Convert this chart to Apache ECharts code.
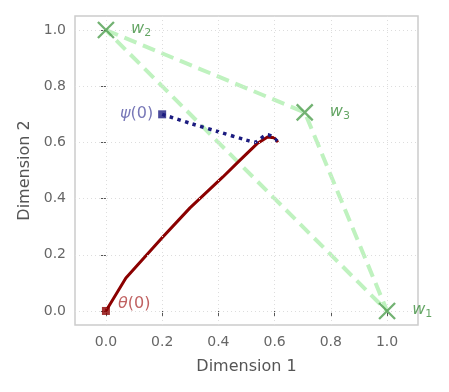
<!DOCTYPE html>
<html>
<head>
<meta charset="utf-8">
<script src="https://cdn.jsdelivr.net/npm/echarts@6/dist/echarts.min.js"></script>
<style>
  html, body { margin: 0; padding: 0; background: #fff; }
  #chart { width: 449px; height: 392px; }
</style>
</head>
<body>
<div id="chart"></div>
<script>
// tick positions on both axes
const xTicks = [0, 0.2, 0.4, 0.6, 0.8, 1.0];
const yTicks = [0, 0.2, 0.4, 0.6, 0.8, 1.0];

// simplex vertices w1, w2, w3
const vertexIndex = ['1', '2', '3'];
const vertices = [[1, 0], [0, 1], [0.707, 0.707]];
// dashed edges: w2 -> w3 -> w1 -> w2
const simplexEdges = [[0, 1], [0.707, 0.707], [1, 0], [0, 1]];

// theta trajectory (solid dark red)
const thetaPath = [
  [0, 0], [0.071, 0.117], [0.199, 0.26], [0.299, 0.367], [0.416, 0.477],
  [0.477, 0.537], [0.537, 0.595], [0.575, 0.619], [0.598, 0.617], [0.612, 0.601]
];
// psi trajectory (dotted navy)
const psiPath = [
  [0.2, 0.7], [0.3, 0.668], [0.4, 0.638], [0.5, 0.608], [0.53, 0.601],
  [0.548, 0.612], [0.562, 0.623], [0.575, 0.627], [0.592, 0.62], [0.609, 0.605]
];

const gridLines = xTicks.map(v => ({ xAxis: v })).concat(yTicks.map(v => ({ yAxis: v })));

const chart = echarts.init(document.getElementById('chart'));

const axisCommon = {
  type: 'value',
  nameLocation: 'middle',
  nameTextStyle: { color: '#555', fontSize: 16, fontFamily: 'DejaVu Sans' },
  axisLine: { show: false },
  splitLine: { show: false },
  axisTick: { show: true, length: 5, lineStyle: { color: '#555', width: 1 } },
  axisLabel: { color: '#666', fontSize: 14, fontFamily: 'DejaVu Sans', formatter: v => v.toFixed(1) }
};

chart.setOption({
  animation: false,
  grid: { left: 75, right: 31, top: 16, bottom: 67, show: true, borderColor: '#ccc', borderWidth: 1.5 },
  xAxis: Object.assign({}, axisCommon, {
    name: 'Dimension 1', nameGap: 34, min: -0.11, max: 1.11,
    axisTick: Object.assign({}, axisCommon.axisTick, { customValues: xTicks }),
    axisLabel: Object.assign({}, axisCommon.axisLabel, { customValues: xTicks, margin: 10 })
  }),
  yAxis: Object.assign({}, axisCommon, {
    name: 'Dimension 2', nameGap: 42, min: -0.05, max: 1.05,
    axisTick: Object.assign({}, axisCommon.axisTick, { customValues: yTicks }),
    axisLabel: Object.assign({}, axisCommon.axisLabel, { customValues: yTicks, margin: 9 })
  }),
  series: [
    {
      type: 'line',
      data: simplexEdges,
      symbol: 'none',
      lineStyle: { color: '#bff2bf', width: 4, type: [13, 7] },
      markLine: {
        silent: true, symbol: 'none', label: { show: false },
        lineStyle: { color: '#ddd', width: 1, type: [1, 3] },
        data: gridLines
      },
      z: 2
    },
    {
      type: 'line',
      data: thetaPath,
      symbol: 'none',
      lineStyle: { color: '#8b0000', width: 3, join: 'round' },
      z: 3
    },
    {
      type: 'line',
      data: psiPath,
      symbol: 'none',
      smooth: 0.3,
      lineStyle: { color: '#1c1c80', width: 3.5, type: [3.5, 4.5] },
      z: 4
    },
    {
      type: 'scatter',
      data: [thetaPath[0]],
      symbol: 'rect',
      symbolSize: 8,
      itemStyle: { color: '#8b0000' },
      label: {
        show: true, position: [16, -11], color: '#b03a3a', fontSize: 16, fontFamily: 'DejaVu Sans',
        formatter: '{i|\u03b8}(0)', rich: { i: { fontStyle: 'italic', fontSize: 16, color: '#b03a3a' } }
      },
      z: 5
    },
    {
      type: 'scatter',
      data: [psiPath[0]],
      symbol: 'rect',
      symbolSize: 8,
      itemStyle: { color: '#1c1c80' },
      label: {
        show: true, position: 'left', distance: 5, color: '#5555a5', fontSize: 16, fontFamily: 'DejaVu Sans',
        formatter: '{i|\u03c8}(0)', rich: { i: { fontStyle: 'italic', fontSize: 16, color: '#5555a5' } }
      },
      z: 5
    },
    {
      type: 'scatter',
      data: vertices.map((p, i) => ({ value: p, name: vertexIndex[i] })),
      symbol: 'path://M0,0L10,10M10,0L0,10',
      symbolSize: 16,
      itemStyle: { color: 'transparent', borderColor: '#4f9f4f', borderWidth: 2.3 },
      label: {
        show: true, position: 'right', distance: 16, color: '#3d8f3d',
        fontFamily: 'DejaVu Sans', formatter: p => '{w|w}{s|' + p.name + '}',
        rich: {
          w: { fontSize: 16, fontStyle: 'italic', color: '#3d8f3d', lineHeight: 18, verticalAlign: 'top' },
          s: { fontSize: 11, color: '#3d8f3d', lineHeight: 18, verticalAlign: 'bottom' }
        }
      },
      z: 6
    }
  ]
});
</script>
</body>
</html>
